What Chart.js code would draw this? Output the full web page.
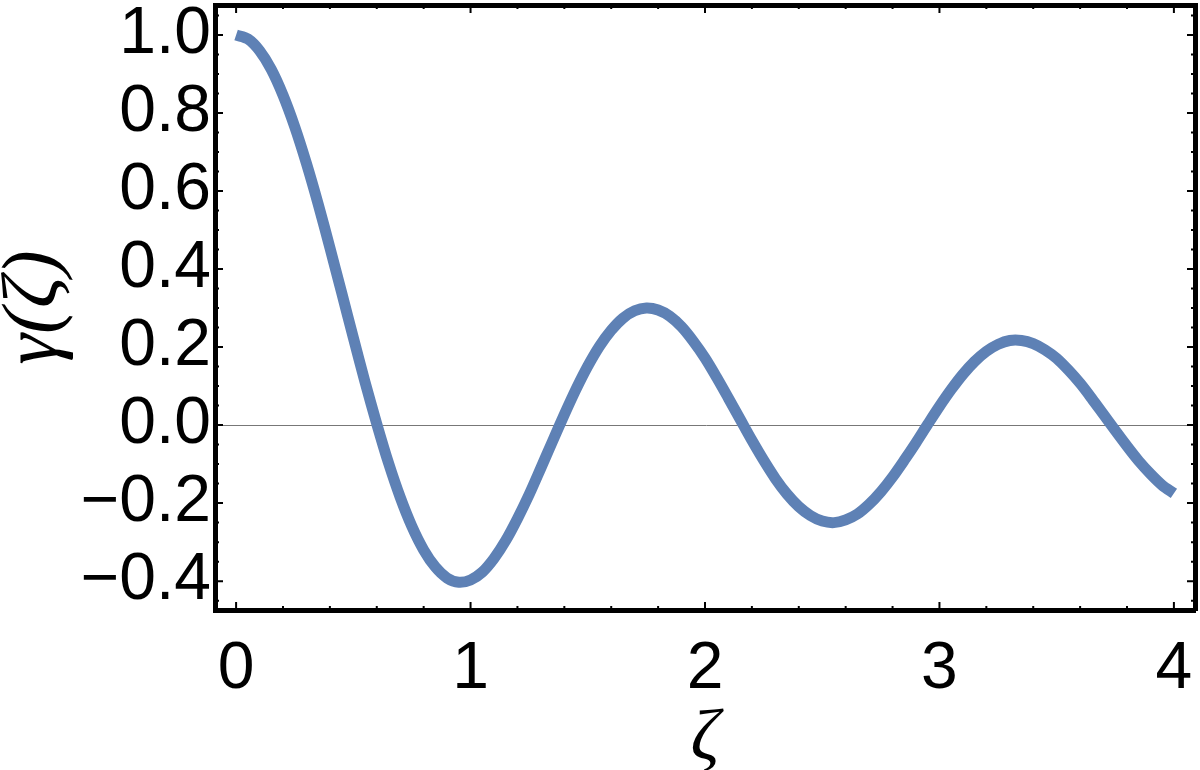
<!DOCTYPE html>
<html>
<head>
<meta charset="utf-8">
<script src="https://cdn.jsdelivr.net/npm/chart.js@4"></script>
<style>
  html, body { margin: 0; padding: 0; background: #fff; overflow: hidden; }
  canvas { display: block; }
</style>
</head>
<body>
<canvas id="gammaChart" width="1200" height="770"></canvas>
<script>
// values, step 0.05 in zeta
const zeta = [
  0.00, 0.05, 0.10, 0.15, 0.20, 0.25, 0.30, 0.35, 0.40, 0.45,
  0.50, 0.55, 0.60, 0.65, 0.70, 0.75, 0.80, 0.85, 0.90, 0.95,
  1.00, 1.05, 1.10, 1.15, 1.20, 1.25, 1.30, 1.35, 1.40, 1.45,
  1.50, 1.55, 1.60, 1.65, 1.70, 1.75, 1.80, 1.85, 1.90, 1.95,
  2.00, 2.05, 2.10, 2.15, 2.20, 2.25, 2.30, 2.35, 2.40, 2.45,
  2.50, 2.55, 2.60, 2.65, 2.70, 2.75, 2.80, 2.85, 2.90, 2.95,
  3.00, 3.05, 3.10, 3.15, 3.20, 3.25, 3.30, 3.35, 3.40, 3.45,
  3.50, 3.55, 3.60, 3.65, 3.70, 3.75, 3.80, 3.85, 3.90, 3.95,
  4.00
];
const gamma = [
  1.000, 0.990, 0.960, 0.912, 0.846, 0.765, 0.671, 0.567, 0.455, 0.340,
  0.224, 0.110, 0.003, -0.097, -0.185, -0.260, -0.320, -0.364, -0.392, -0.403,
  -0.397, -0.377, -0.342, -0.296, -0.240, -0.178, -0.110, -0.041, 0.027, 0.092,
  0.151, 0.202, 0.243, 0.274, 0.293, 0.300, 0.295, 0.279, 0.252, 0.215,
  0.172, 0.122, 0.069, 0.015, -0.039, -0.090, -0.137, -0.177, -0.209, -0.232,
  -0.246, -0.250, -0.243, -0.228, -0.203, -0.171, -0.133, -0.090, -0.045, 0.002,
  0.048, 0.091, 0.130, 0.163, 0.189, 0.207, 0.217, 0.217, 0.209, 0.193,
  0.171, 0.141, 0.107, 0.068, 0.027, -0.014, -0.054, -0.092, -0.125, -0.154,
  -0.175
];
const xTicks = [0, 1, 2, 3, 4];
const yTicks = [-0.4, -0.2, 0.0, 0.2, 0.4, 0.6, 0.8, 1.0];
const xRange = [-0.09, 4.09];
const yRange = [-0.474, 1.077];

const blue = '#5E81B5';
const tickFont = { family: 'Liberation Sans', size: 66 };
const xTitleFont = { family: 'Liberation Serif', size: 72, style: 'italic', lineHeight: 1 };
const yTitleFont = { family: 'Liberation Serif', size: 78, style: 'italic', lineHeight: 1 };
const frame = { display: true, width: 5, color: '#000' };

function fixedTicks(list) {
  return function (scale) { scale.ticks = list.map(v => ({ value: v })); };
}
function fmtY(v) {
  const s = Math.abs(v).toFixed(1);
  return v < -1e-9 ? '\u2212' + s : s;
}

// small inward frame ticks (major and minor), placed through the scales
const frameTicks = {
  id: 'frameTicks',
  afterDatasetsDraw(chart) {
    const { ctx, chartArea: a, scales } = chart;
    ctx.save();
    ctx.strokeStyle = '#000';
    ctx.lineWidth = 2;
    ctx.beginPath();
    for (let v = 0; v <= 4.001; v += 0.2) {
      const px = scales.x.getPixelForValue(v);
      const major = Math.abs(v - Math.round(v)) < 1e-6;
      const len = major ? 8 : 4;
      ctx.moveTo(px, a.bottom); ctx.lineTo(px, a.bottom - len);
      ctx.moveTo(px, a.top); ctx.lineTo(px, a.top + len);
    }
    for (let v = -0.45; v <= 1.051; v += 0.05) {
      const py = scales.y.getPixelForValue(v);
      const major = Math.abs(v * 5 - Math.round(v * 5)) < 1e-6;
      const len = major ? 8 : 4;
      ctx.moveTo(a.left, py); ctx.lineTo(a.left + len, py);
      ctx.moveTo(a.right, py); ctx.lineTo(a.right - len, py);
    }
    ctx.stroke();
    ctx.restore();
  }
};

new Chart(document.getElementById('gammaChart'), {
  type: 'line',
  data: {
    datasets: [{
      data: zeta.map((z, i) => ({ x: z, y: gamma[i] })),
      borderColor: blue,
      borderWidth: 11,
      borderCapStyle: 'butt',
      pointRadius: 0,
      tension: 0.3,
      fill: false,
    }],
  },
  options: {
    responsive: false,
    animation: false,
    devicePixelRatio: 1,
    layout: { padding: 0 },
    plugins: { legend: { display: false }, tooltip: { enabled: false } },
    scales: {
      x: {
        type: 'linear',
        position: 'bottom',
        min: xRange[0],
        max: xRange[1],
        afterBuildTicks: fixedTicks(xTicks),
        afterFit: s => { s.height = 160; s.paddingLeft = 0; s.paddingRight = 0; },
        grid: { display: false },
        border: frame,
        ticks: { font: tickFont, color: '#000', padding: 12, maxRotation: 0, callback: v => String(v) },
        title: { display: true, text: '\u03B6', font: xTitleFont, color: '#000', padding: { top: 0, bottom: -6 } },
      },
      x2: {
        type: 'linear',
        position: 'top',
        min: xRange[0],
        max: xRange[1],
        afterFit: s => { s.height = 5; },
        grid: { display: false },
        border: frame,
        ticks: { display: false },
      },
      y: {
        type: 'linear',
        position: 'left',
        min: yRange[0],
        max: yRange[1],
        afterBuildTicks: fixedTicks(yTicks),
        afterFit: s => { s.width = 215; s.paddingTop = 0; s.paddingBottom = 0; },
        grid: {
          drawTicks: false,
          lineWidth: 1,
          color: c => (c.tick && Math.abs(c.tick.value) < 1e-9 ? '#777' : 'rgba(0,0,0,0)'),
        },
        border: frame,
        ticks: { font: tickFont, color: '#000', padding: 4, callback: v => fmtY(v) },
        title: { display: true, text: '\u03B3(\u03B6)', font: yTitleFont, color: '#000', padding: { top: -4, bottom: 0 } },
      },
      y2: {
        type: 'linear',
        position: 'right',
        min: yRange[0],
        max: yRange[1],
        afterFit: s => { s.width = 5; },
        grid: { display: false },
        border: frame,
        ticks: { display: false },
      },
    },
  },
  plugins: [frameTicks],
});
</script>
</body>
</html>
